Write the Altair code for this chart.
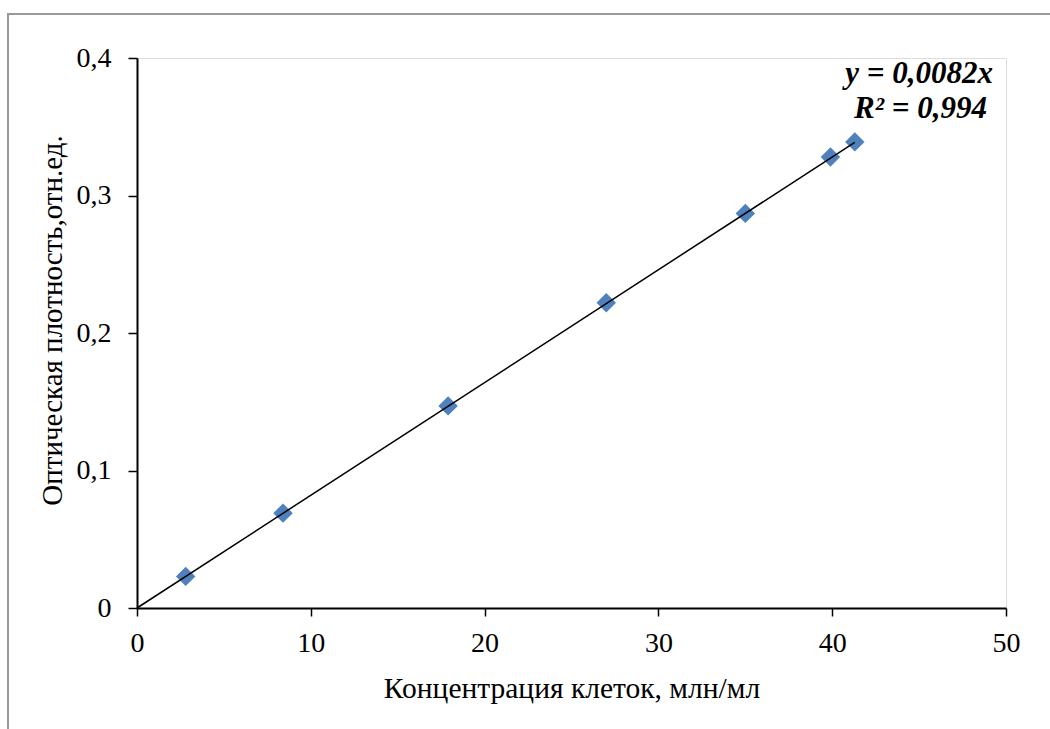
import altair as alt
import pandas as pd

# Calibration data: cell concentration vs optical density
conc = [2.8, 8.4, 17.9, 27.0, 35.0, 39.9, 41.3]
od = [0.023, 0.069, 0.147, 0.222, 0.287, 0.328, 0.339]

# Linear fit through the origin
slope = 0.0082
r2 = 0.994

x_ticks = [0, 10, 20, 30, 40, 50]
y_ticks = [0, 0.1, 0.2, 0.3, 0.4]

FONT = "Liberation Serif"

pts = pd.DataFrame({"x": conc, "y": od})
fit = pd.DataFrame({"x": [0, max(conc)], "y": [0, slope * max(conc)]})
eq_text = f"y = {slope:.4f}x".replace(".", ",")
r2_text = f"R² = {r2:.3f}".replace(".", ",")

comma = "datum.value == 0 ? '0' : replace(format(datum.value, '.1f'), '.', ',')"
comma_int = "format(datum.value, 'd')"

x_scale = alt.Scale(domain=[0, 50], nice=False, zero=True)
y_scale = alt.Scale(domain=[0, 0.4], nice=False, zero=True)

x_axis = alt.Axis(
    values=x_ticks, labelExpr=comma_int, title="Концентрация клеток, млн/мл",
    grid=False, tickSize=8, tickWidth=1.5, tickColor="black",
    domainColor="black", domainWidth=2, labelFlush=False,
    labelFontSize=28, labelColor="black", labelPadding=13, labelFont=FONT,
    titleFontSize=29.5, titleFontWeight="normal", titleColor="black", titleFont=FONT,
    titleX=434.5, titleY=80, titleBaseline="middle", titleAlign="center",
)
y_axis = alt.Axis(
    values=y_ticks, labelExpr=comma, title="Оптическая плотность,отн.ед.",
    grid=False, tickSize=9, tickWidth=1.5, tickColor="black",
    domainColor="black", domainWidth=2, labelFlush=False,
    labelFontSize=28, labelColor="black", labelPadding=17, labelFont=FONT,
    titleFontSize=29, titleFontWeight="normal", titleColor="black", titleFont=FONT,
    titleAngle=-90, titleX=-85, titleY=262, titleBaseline="middle", titleAlign="center",
)

# Outer frame around the whole figure
frame = alt.Chart(pd.DataFrame({"k": [0]})).mark_rect(
    fill=None, stroke="#999999", strokeWidth=2, clip=False
).encode(
    x=alt.value(-129), x2=alt.value(940),
    y=alt.value(-44), y2=alt.value(700),
)

points = alt.Chart(pts).mark_point(
    shape="diamond", filled=True, color="#4F81BD", size=380, opacity=1
).encode(
    x=alt.X("x:Q", scale=x_scale, axis=x_axis),
    y=alt.Y("y:Q", scale=y_scale, axis=y_axis),
)

trend = alt.Chart(fit).mark_line(color="black", strokeWidth=1.5).encode(
    x=alt.X("x:Q", scale=x_scale),
    y=alt.Y("y:Q", scale=y_scale),
)

text_style = dict(align="right", baseline="middle", font=FONT, fontSize=31,
                  fontWeight="bold", fontStyle="italic", color="black")

eq_mark = alt.Chart(pd.DataFrame({"label": [eq_text]})).mark_text(**text_style).encode(
    x=alt.value(856), y=alt.value(16), text="label:N",
)
r2_mark = alt.Chart(pd.DataFrame({"label": [r2_text]})).mark_text(**text_style).encode(
    x=alt.value(850), y=alt.value(51), text="label:N",
)

chart = alt.layer(frame, points, trend, eq_mark, r2_mark).properties(
    width=869, height=550,
    autosize=alt.AutoSizeParams(type="none"),
    padding={"left": 137, "top": 58, "right": 44, "bottom": 121},
    background="white",
).configure_view(
    stroke="black", strokeWidth=2
).configure(font=FONT)

chart.save("out.html", embed_options={"renderer": "svg", "actions": False})
